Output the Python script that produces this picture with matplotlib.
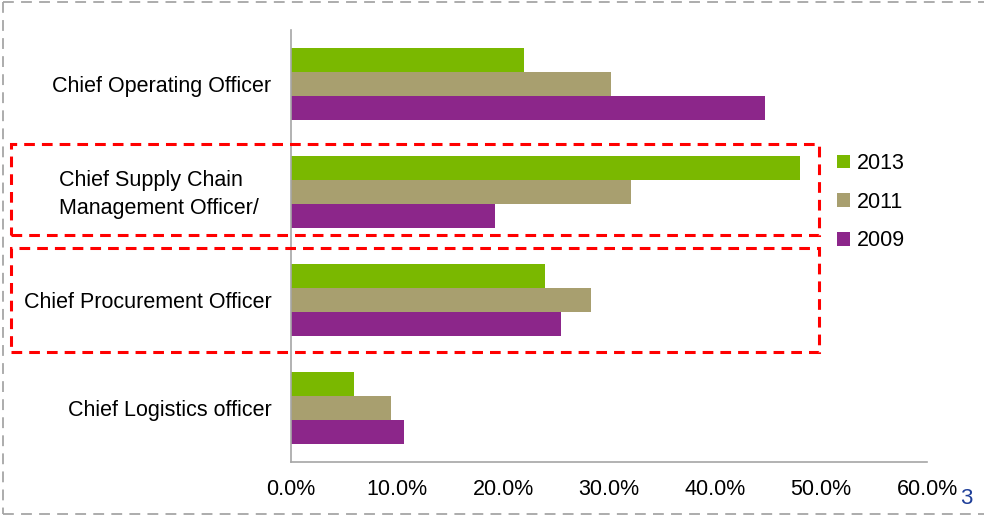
import matplotlib.pyplot as plt
import numpy as np
from matplotlib.patches import Rectangle
from matplotlib.lines import Line2D
from matplotlib.ticker import PercentFormatter
from matplotlib.transforms import ScaledTranslation

plt.rcParams["font.family"] = ["Liberation Sans", "DejaVu Sans"]

roles = [
    "Chief Operating Officer",
    "Chief Supply Chain\nManagement Officer/",
    "Chief Procurement Officer",
    "Chief Logistics officer",
]
years = ["2013", "2011", "2009"]
share_2013 = [22.0, 48.0, 24.0, 5.9]
share_2011 = [30.2, 32.1, 28.3, 9.4]
share_2009 = [44.7, 19.2, 25.5, 10.7]
colors = ["#7AB800", "#A89F6F", "#8C268A"]

fig = plt.figure(figsize=(9.84, 5.16), dpi=100)
ax = fig.add_axes([291 / 984, 1 - 462 / 516, (927 - 291) / 984, (462 - 30) / 516])

y = np.arange(len(roles))
h = 0.222
for i, (vals, yr, c) in enumerate(zip([share_2013, share_2011, share_2009], years, colors)):
    ax.barh(y + (i - 1) * h, vals, height=h, color=c, label=yr)

ax.set_xlim(0, 60)
ax.set_ylim(3.5, -0.5)
ax.set_xticks(np.arange(0, 61, 10))
ax.xaxis.set_major_formatter(PercentFormatter(decimals=1))
ax.set_yticks(y)
ax.set_yticklabels(roles)
ax.tick_params(axis="both", length=0, labelsize=15.5)
ax.tick_params(axis="y", pad=14)
ax.tick_params(axis="x", pad=12)
for side in ["top", "right"]:
    ax.spines[side].set_visible(False)
for side in ["left", "bottom"]:
    ax.spines[side].set_color("#A6A6A6")
    ax.spines[side].set_linewidth(1.2)

# two-line label: left aligned, wider line spacing, nudged left and up
wrapped = ax.get_yticklabels()[1]
wrapped.set_multialignment("left")
wrapped.set_linespacing(1.45)
wrapped.set_transform(wrapped.get_transform() + ScaledTranslation(-0.13, 0.035, fig.dpi_scale_trans))

ax.legend(loc="upper left", bbox_to_anchor=(837 / 984, 1 - 153 / 516),
          bbox_transform=fig.transFigure, frameon=False, fontsize=15.5,
          handlelength=0.6, handleheight=0.6, handletextpad=0.3,
          labelspacing=0.82, borderpad=0, borderaxespad=0)

# red dashed highlight boxes around supply chain and procurement rows
for top, bottom in [(144, 235), (248, 352)]:
    fig.patches.append(Rectangle((11 / 984, 1 - bottom / 516), (819 - 11) / 984,
                                 (bottom - top) / 516, transform=fig.transFigure,
                                 fill=False, edgecolor="#FF0000", linewidth=2.2,
                                 linestyle=(0, (3.5, 2.3))))

# outer slide frame
frame = dict(transform=fig.transFigure, color="#A6A6A6", linewidth=1.3,
             linestyle=(0, (6, 4)))
fig.lines.append(Line2D([3 / 984, 1], [1 - 2 / 516] * 2, **frame))
fig.lines.append(Line2D([3 / 984, 1], [1 - 514 / 516] * 2, **frame))
fig.lines.append(Line2D([3 / 984] * 2, [1 - 2 / 516, 1 - 514 / 516], **frame))

fig.text(966 / 984, 1 - 498 / 516, "3", color="#1F3F99", fontsize=16,
         ha="center", va="center")

fig.savefig("out.png", dpi=100)
